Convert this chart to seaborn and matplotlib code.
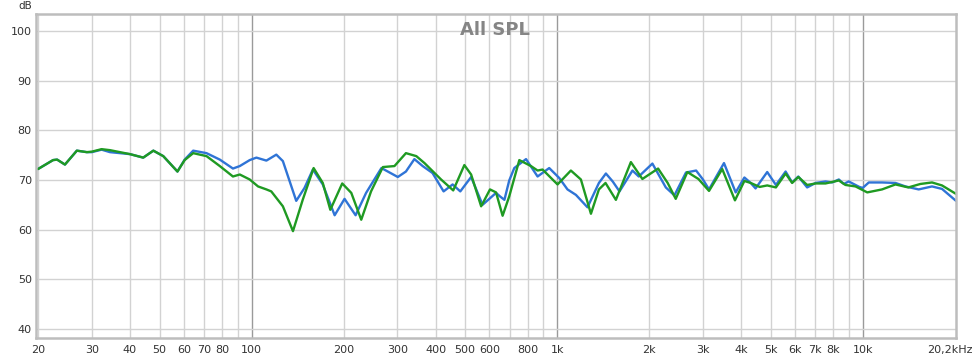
import matplotlib
matplotlib.use("Agg")
import matplotlib.pyplot as plt
import matplotlib.transforms as mtransforms
import seaborn as sns
import pandas as pd

# ---- data ----
blue_freq = [20, 22.4, 23.1, 24.5, 26.8, 28.9, 30, 32.3, 34.4, 40, 44.2, 47.7, 51.4, 57.2, 60.4,
             64.4, 71.2, 78.7, 86.9, 91.5, 98.6, 103.7, 111.8, 120.5, 126.6, 140, 149, 158.7, 171,
             187, 201.5, 219, 237, 266, 301, 320, 341, 363, 391, 425, 455, 482, 523, 570, 631,
             650, 672, 697, 724, 791, 863, 942, 1016, 1081, 1152, 1257, 1370, 1444, 1520, 1600,
             1764, 1850, 2050, 2268, 2420, 2640, 2850, 3000, 3141, 3516, 3840, 4100, 4300, 4460,
             4870, 5200, 5594, 5876, 6157, 6580, 7012, 7557, 7944, 8354, 8674, 9000, 9750, 10000,
             10470, 11570, 12800, 13800, 15250, 16860, 18180, 20200]
blue_db = [72.2, 74.0, 74.1, 73.1, 75.9, 75.6, 75.6, 76.1, 75.6, 75.2, 74.5, 75.9, 74.8, 71.7, 74.1,
           75.9, 75.4, 74.1, 72.3, 72.8, 74.0, 74.5, 73.9, 75.1, 73.8, 65.8, 68.4, 72.1, 69.1,
           62.9, 66.2, 62.9, 67.4, 72.4, 70.6, 71.7, 74.2, 72.8, 71.4, 67.7, 69.1, 67.7, 70.6, 65.0, 67.4,
           66.7, 66.0, 69.9, 72.4, 74.2, 70.7, 72.4, 70.4, 68.1, 67.0, 64.5, 69.4, 71.3, 69.7, 67.7,
           71.9, 70.7, 73.3, 68.5, 66.9, 71.5, 71.9, 70.1, 68.1, 73.4, 67.5, 70.5, 69.4, 68.3,
           71.6, 69.0, 71.7, 69.5, 70.7, 68.5, 69.4, 69.7, 69.5, 70.1, 69.2, 69.7, 68.6, 68.4,
           69.5, 69.5, 69.4, 68.7, 68.1, 68.7, 68.2, 65.8]

green_freq = [20, 22.4, 23.1, 24.5, 26.8, 28.9, 30, 32.3, 34.4, 40, 44.2, 47.7, 51.4, 57.2, 60.4,
              64.4, 71.2, 78.7, 86.9, 91.5, 98.6, 105, 111.8, 116, 126.6, 136.6, 147, 159.6, 171,
              181, 198, 212, 228.5, 246, 269, 293.5, 320, 346, 368, 417, 457, 497, 523, 564, 603,
              631, 663, 697, 752, 821, 863, 896, 1003, 1109, 1196, 1290, 1370, 1440, 1557, 1743,
              1901, 2140, 2300, 2444, 2668, 2900, 3141, 3470, 3819, 4100, 4300, 4600, 4870, 5200,
              5594, 5876, 6157, 6580, 7012, 7557, 8354, 8780, 9473, 10350, 11570, 12800, 14100,
              15450, 16860, 18180, 20200]
green_db = [72.2, 74.0, 74.1, 73.1, 75.9, 75.6, 75.7, 76.2, 76.0, 75.2, 74.5, 75.9, 74.8, 71.7, 74.0,
            75.4, 74.8, 72.8, 70.7, 71.1, 70.1, 68.7, 68.1, 67.7, 64.7, 59.7, 66.0, 72.4, 69.4,
            64.0, 69.3, 67.4, 62.0, 67.7, 72.6, 72.8, 75.4, 74.8, 73.4, 70.1, 67.9, 73.0, 71.1, 64.7, 68.1,
            67.5, 62.8, 66.7, 74.0, 72.8, 71.9, 72.1, 69.1, 71.9, 70.1, 63.2, 68.1, 69.4, 66.0, 73.6,
            70.2, 72.3, 69.4, 66.2, 71.6, 70.2, 67.8, 72.2, 65.9, 69.8, 69.4, 68.6, 68.9, 68.5,
            71.3, 69.4, 70.6, 69.0, 69.3, 69.3, 69.9, 69.0, 68.7, 67.5, 68.1, 69.1, 68.5,
            69.2, 69.5, 68.9, 67.2]

x_ticks = [20, 30, 40, 50, 60, 70, 80, 100, 200, 300, 400, 500, 600, 800, 1000,
           2000, 3000, 4000, 5000, 6000, 7000, 8000, 10000, 20200]
x_labels = ["20", "30", "40", "50", "60", "70", "80", "100", "200", "300", "400", "500",
            "600", "800", "1k", "2k", "3k", "4k", "5k", "6k", "7k", "8k", "10k", "20,2kHz"]
y_ticks = [40, 50, 60, 70, 80, 90, 100]
title = "All SPL"
y_unit = "dB"

# ---- build the table ----
df = pd.concat([
    pd.DataFrame({"freq": blue_freq, "spl": blue_db, "trace": "A"}),
    pd.DataFrame({"freq": green_freq, "spl": green_db, "trace": "B"}),
])

sns.set_theme(style="white")
plt.rcParams["font.family"] = ["DejaVu Sans"]

fig = plt.figure(figsize=(9.75, 3.59), dpi=100)
ax = fig.add_axes([36 / 975, 21 / 359, 920 / 975, 324 / 359])

ax.set_xscale("log")
ax.set_xlim(19.7, 20200)
ax.set_ylim(38.2, 103.4)

# grid
grid_minor = [f * m for m in (10, 100, 1000) for f in range(2, 10)]
for f in grid_minor:
    ax.axvline(f, color="#d2d2d2", lw=1.0, zorder=0)
for f in (100, 1000, 10000):
    ax.axvline(f, color="#9a9a9a", lw=1.0, zorder=0)
for y in y_ticks:
    ax.axhline(y, color="#d2d2d2", lw=1.0, zorder=0)

sns.lineplot(data=df, x="freq", y="spl", hue="trace", palette={"A": "#2f74d6", "B": "#1f9a22"},
             hue_order=["A", "B"], estimator=None, sort=False, lw=1.7, legend=False, ax=ax)

ax.set_xticks(x_ticks)
ax.set_xticklabels(x_labels)
ax.minorticks_off()
ax.set_yticks(y_ticks)
ax.set_yticklabels([str(v) for v in y_ticks])
ax.tick_params(axis="both", length=0, labelsize=8, colors="#333333")
ax.tick_params(axis="x", pad=5)
ax.tick_params(axis="y", pad=3)
ax.set_xlabel("")
ax.set_ylabel("")

# shift the last (end-of-range) label a little left so it fits
last = ax.get_xticklabels()[-1]
last.set_transform(last.get_transform() + mtransforms.ScaledTranslation(-6 / 100, 0, fig.dpi_scale_trans))

for s in ax.spines.values():
    s.set_color("#bdbdbd")
    s.set_linewidth(1.8)

fig.text(18 / 975, 1 - 6 / 359, y_unit, fontsize=7.5, color="#333333", ha="left", va="center")
ax.text(0.499, 0.95, title, transform=ax.transAxes, ha="center", va="center",
        fontsize=13, fontweight="bold", color="#858585")

fig.savefig("out.png", dpi=100, facecolor="white")
